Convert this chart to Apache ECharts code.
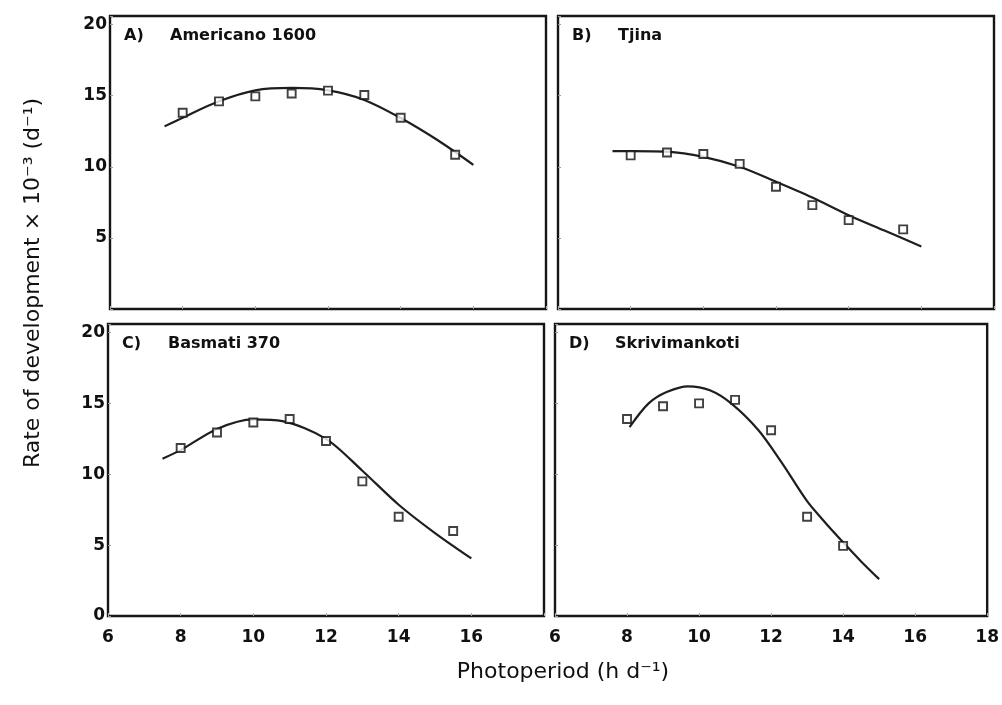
<!DOCTYPE html>
<html><head><meta charset="utf-8">
<script src="https://cdn.jsdelivr.net/npm/echarts@6/dist/echarts.min.js"></script>
<style>html,body{margin:0;padding:0;background:#fff}#c{width:1002px;height:705px}</style>
</head><body><div id="c"></div>
<script>
// Panel labels and cultivar names
const panelLetters = ['A)', 'B)', 'C)', 'D)'];
const cultivars = ['Americano 1600', 'Tjina', 'Basmati 370', 'Skrivimankoti'];

// Observed points (photoperiod h/d, rate x10^-3 /d)
const obsX = [8, 9, 10, 11, 12, 13, 14, 15.5];
const obsA = [13.8, 14.6, 14.95, 15.15, 15.35, 15.05, 13.45, 10.85];
const obsB = [10.8, 11.0, 10.9, 10.2, 8.6, 7.3, 6.25, 5.6];
const obsC = [11.85, 12.95, 13.65, 13.9, 12.35, 9.5, 7.0, 6.0];
const obsXD = [8, 9, 10, 11, 12, 13, 14];
const obsD = [13.9, 14.8, 15.0, 15.25, 13.1, 7.0, 4.95];

// Fitted curves
const fitXA = [7.5, 8, 9, 10, 11, 12, 13, 14, 15, 16];
const fitA  = [12.84, 13.45, 14.6, 15.37, 15.54, 15.37, 14.7, 13.43, 11.9, 10.14];
const fitXB = [7.5, 8, 9, 10, 11, 12, 13, 14, 15, 16];
const fitB  = [11.1, 11.1, 11.06, 10.7, 10.0, 8.95, 7.84, 6.6, 5.5, 4.4];
const fitXC = [7.5, 8, 9, 10, 10.8, 12, 13, 14, 15, 16];
const fitC  = [11.1, 11.7, 13.2, 13.87, 13.75, 12.5, 10.25, 7.85, 5.85, 4.06];
const fitXD = [8.07, 8.6, 9.1, 9.7, 10.3, 10.9, 11.65, 12.3, 13, 13.5, 14, 14.5, 15];
const fitD  = [13.33, 15.0, 15.8, 16.2, 15.92, 14.98, 13.1, 10.8, 8.1, 6.6, 5.2, 3.85, 2.6];

// Axis ticks
const xMin = 6, xMax = 18, xStep = 2;
const yMin = 0, yMax = 20.6, yStep = 5;

const panels = [
  {left: 110, top: 16, width: 436, height: 293, xLabels: false, yLabels: true, showY0: false, hideX18: false},
  {left: 558, top: 16, width: 436, height: 293, xLabels: false, yLabels: false, showY0: false, hideX18: false},
  {left: 108, top: 324, width: 436, height: 292, xLabels: true, yLabels: true, showY0: true, hideX18: true},
  {left: 555, top: 324, width: 438, height: 292, xLabels: true, yLabels: false, showY0: false, hideX18: false}
];
const obsSets = [[obsX, obsA], [obsX, obsB], [obsX, obsC], [obsXD, obsD]];
const fitSets = [[fitXA, fitA], [fitXB, fitB], [fitXC, fitC], [fitXD, fitD]];

const tickFont = {fontFamily: 'DejaVu Sans', fontWeight: 'bold', fontSize: 17, color: '#111'};

const grids = [], xAxes = [], yAxes = [], series = [], graphics = [];
panels.forEach((p, i) => {
  grids.push({left: p.left, top: p.top, width: p.width, height: p.height, show: true,
    borderColor: '#161616', borderWidth: 2.4, backgroundColor: 'transparent'});
  xAxes.push({type: 'value', gridIndex: i, min: xMin, max: xMax, interval: xStep,
    axisLine: {show: false}, splitLine: {show: false},
    axisTick: {show: true, inside: true, length: 3, lineStyle: {color: '#aaa', width: 1}},
    axisLabel: {show: p.xLabels, margin: 13, ...tickFont,
      formatter: v => (p.hideX18 && v === 18) ? '' : String(v)}});
  yAxes.push({type: 'value', gridIndex: i, min: yMin, max: yMax, interval: yStep,
    axisLine: {show: false}, splitLine: {show: false},
    axisTick: {show: true, inside: true, length: 3, lineStyle: {color: '#999', width: 1}},
    axisLabel: {show: p.yLabels, margin: 3, ...tickFont,
      formatter: v => (v % 5 !== 0 || v > 20) ? '' : (v === 0 && !p.showY0 ? '' : String(v))}});
  const fx = fitSets[i][0], fy = fitSets[i][1];
  series.push({type: 'line', xAxisIndex: i, yAxisIndex: i, showSymbol: false, smooth: 0.3,
    data: fx.map((x, k) => [x, fy[k]]), lineStyle: {color: '#1e1e1e', width: 2.2}, silent: true, z: 2});
  const ox = obsSets[i][0], oy = obsSets[i][1];
  series.push({type: 'scatter', xAxisIndex: i, yAxisIndex: i, symbol: 'rect', symbolSize: 8,
    data: ox.map((x, k) => [x, oy[k]]),
    itemStyle: {color: '#fff', borderColor: '#111', borderWidth: 1.9}, z: 3});
  const cy = p.top + 20;
  graphics.push({type: 'text', x: p.left + 14, y: cy,
    style: {text: panelLetters[i], font: 'bold 16px "DejaVu Sans"', fill: '#111', verticalAlign: 'middle'}});
  graphics.push({type: 'text', x: p.left + 60, y: cy,
    style: {text: cultivars[i], font: 'bold 16px "DejaVu Sans"', fill: '#111', verticalAlign: 'middle'}});
});

graphics.push({type: 'text', x: 33, y: 283, rotation: Math.PI / 2,
  style: {text: 'Rate of development × 10⁻³ (d⁻¹)', font: '22px "DejaVu Sans"',
    fill: '#111', align: 'center', verticalAlign: 'middle'}});
graphics.push({type: 'text', x: 563, y: 672,
  style: {text: 'Photoperiod (h d⁻¹)', font: '22px "DejaVu Sans"',
    fill: '#111', align: 'center', verticalAlign: 'middle'}});

const chart = echarts.init(document.getElementById('c'), null, {renderer: 'canvas'});
chart.setOption({animation: false, backgroundColor: '#fff', grid: grids, xAxis: xAxes, yAxis: yAxes,
  series: series, graphic: graphics});
</script></body></html>
